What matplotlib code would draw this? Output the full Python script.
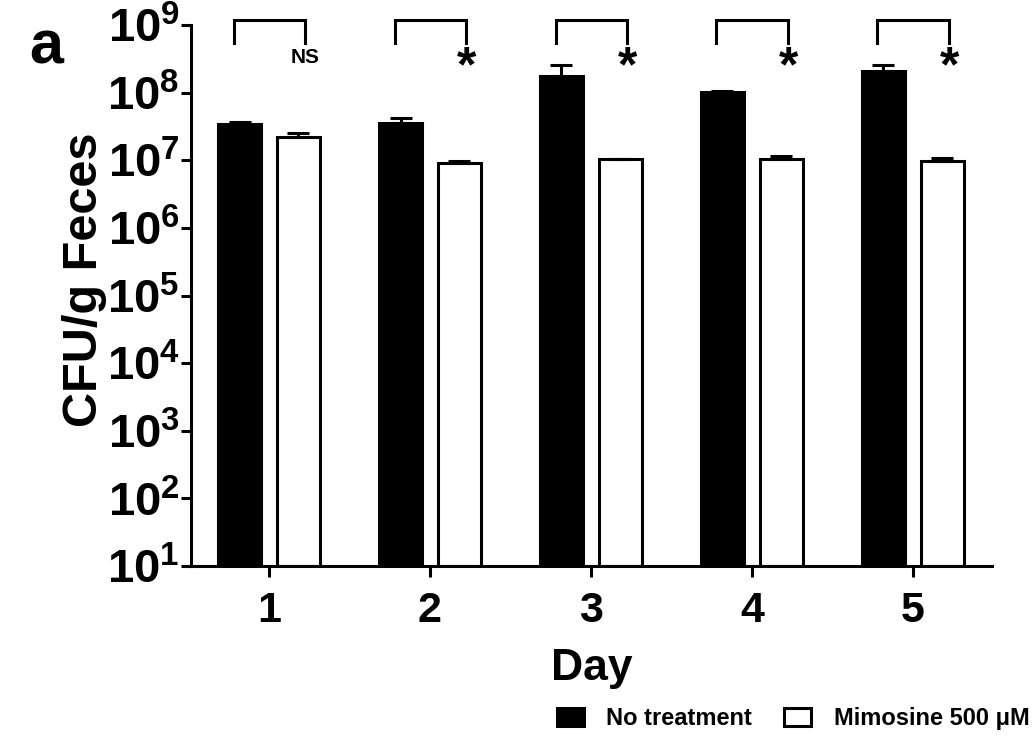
import numpy as np
import matplotlib.pyplot as plt
from matplotlib.patches import Patch

plt.rcParams['font.family'] = ['Liberation Sans', 'DejaVu Sans']
plt.rcParams['font.weight'] = 'bold'
plt.rcParams['mathtext.fontset'] = 'custom'
plt.rcParams['mathtext.rm'] = 'Liberation Sans:bold'
plt.rcParams['mathtext.bf'] = 'Liberation Sans:bold'

days = [1, 2, 3, 4, 5]
no_treat = np.array([3.4e7, 3.6e7, 1.75e8, 1.02e8, 2.1e8])
no_treat_err = np.array([0.3e7, 0.6e7, 0.85e8, 0.04e8, 0.5e8])
mimosine = np.array([2.2e7, 9.2e6, 1.03e7, 1.03e7, 9.6e6])
mimosine_err = np.array([0.3e7, 0.4e6, 0.03e7, 0.13e7, 1.2e6])
signif = ['NS', '*', '*', '*', '*']
series_names = ['No treatment', 'Mimosine 500 μM']

fig = plt.figure(figsize=(10.32, 7.36), dpi=100)
ax = fig.add_axes([0.185, 0.231, 0.776, 0.735])

x = np.array(days, dtype=float)
w = 0.267
off = 0.183
lw = 2.2

ax.bar(x - off, no_treat - 10, bottom=10, width=w, color='black',
       edgecolor='black', linewidth=lw)
ax.bar(x + off, mimosine - 10, bottom=10, width=w, color='white',
       edgecolor='black', linewidth=lw)
ax.errorbar(x - off, no_treat, yerr=[np.zeros(5), no_treat_err], fmt='none',
            ecolor='black', elinewidth=lw, capsize=8, capthick=lw)
ax.errorbar(x + off, mimosine, yerr=[np.zeros(5), mimosine_err], fmt='none',
            ecolor='black', elinewidth=lw, capsize=8, capthick=lw)

ax.set_yscale('log')
ax.set_ylim(10, 1e9)
ax.set_xlim(0.515, 5.49)
ax.set_yticks([10.0 ** k for k in range(1, 10)])
ax.set_yticklabels([r'$\mathbf{10^{%d}}$' % k for k in range(1, 10)])
ax.minorticks_off()
ax.set_xticks(days)
ax.set_xticklabels([str(d) for d in days])
ax.tick_params(axis='y', labelsize=34, length=7, width=lw, pad=1)
ax.tick_params(axis='x', labelsize=31, length=8, width=lw, pad=10)
for s in ['top', 'right']:
    ax.spines[s].set_visible(False)
for s in ['left', 'bottom']:
    ax.spines[s].set_linewidth(lw)

ax.set_ylabel('CFU/g Feces', fontsize=35, fontweight='bold')
ax.yaxis.set_label_coords(-0.105, 0.53)
ax.set_xlabel('Day', fontsize=32, fontweight='bold', labelpad=12)

# significance brackets
for d, s in zip(days, signif):
    xl, xr = d - 0.22, d + 0.225
    ax.plot([xl, xl, xr, xr], [5.4e8, 1.19e9, 1.19e9, 5.4e8], color='black',
            lw=lw, clip_on=False, solid_joinstyle='miter')
    if s == '*':
        ax.text(xr, 2.3e8, s, fontsize=36, fontweight='bold', ha='center', va='center')
    else:
        ax.text(xr, 3.3e8, s, fontsize=15, fontweight='bold', ha='center', va='center')

fig.text(0.028, 0.935, 'a', fontsize=44, fontweight='bold', ha='left', va='center')

handles = [Patch(facecolor='black', edgecolor='black', linewidth=lw),
           Patch(facecolor='white', edgecolor='black', linewidth=lw)]
fig.legend(handles, series_names, loc='lower right', bbox_to_anchor=(1.018, -0.021),
           ncol=2, frameon=False, handlelength=1.15, handleheight=0.85,
           handletextpad=0.95, columnspacing=1.35, prop={'weight': 'bold', 'size': 17})

fig.savefig('out.png', dpi=100)
